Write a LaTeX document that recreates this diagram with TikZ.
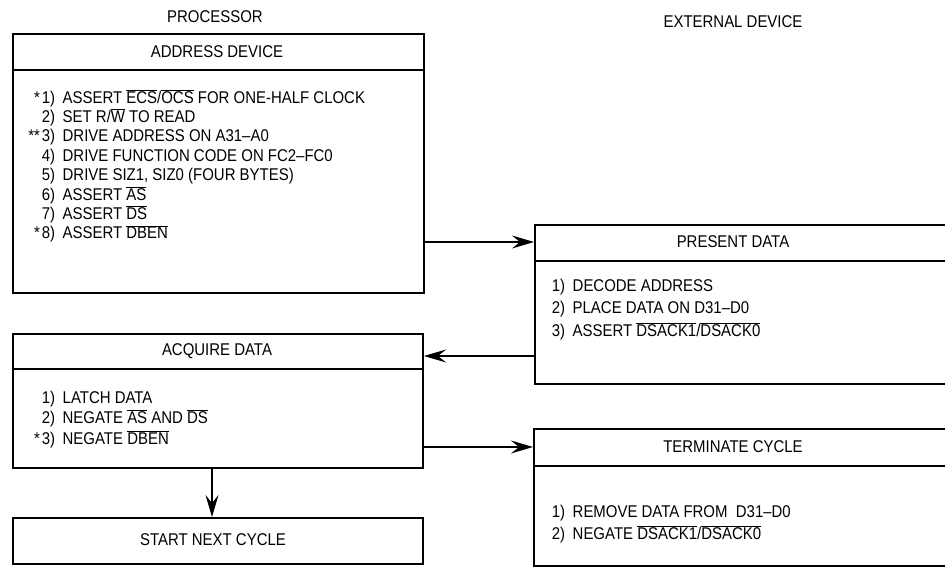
\documentclass[tikz,border=0pt]{standalone}
\usepackage{fontspec}
\setmainfont[FakeStretch=0.88]{Liberation Sans}
\usetikzlibrary{arrows.meta}
\newcommand\ovl[1]{$\overline{\mbox{#1}}$}
\newcommand\itm[2]{\makebox[24pt][r]{#1}\hspace{7.5pt}#2}
\tikzset{
  box/.style={draw, line width=2pt, rectangle, inner sep=0pt, anchor=north west},
  div/.style={line width=1.3pt},
  ttl/.style={inner sep=0pt, font=\fontsize{17}{19}\selectfont},
  lst/.style={inner sep=0pt, anchor=base west, align=left},
  arr/.style={line width=1.3pt, -{Stealth[length=22pt,width=13pt,inset=8pt]}},
}
\begin{document}
\begin{tikzpicture}[x=1pt,y=-1pt]
\clip (0,0) rectangle (945,569);
\fill[white] (0,0) rectangle (945,569);
% headings
\node[ttl] (proc) at (215,17) {PROCESSOR};
\node[ttl] (ext) at (733,22) {EXTERNAL DEVICE};
% boxes
\node[box, minimum width=411pt, minimum height=259pt] (addr) at (12,33) {};
\node[box, minimum width=425pt, minimum height=159pt] (pres) at (534,224) {};
\node[box, minimum width=410pt, minimum height=134pt] (acq) at (12,333) {};
\node[box, minimum width=425pt, minimum height=137pt] (term) at (533,428) {};
\node[box, minimum width=410pt, minimum height=46pt] (snc) at (12,517) {};
% dividers
\draw[div] ([yshift=-37pt]addr.north west) -- ([yshift=-37pt]addr.north east);
\draw[div] ([yshift=-37pt]pres.north west) -- ([yshift=-37pt]pres.north east);
\draw[div] ([yshift=-36pt]acq.north west) -- ([yshift=-36pt]acq.north east);
\draw[div] ([yshift=-38pt]term.north west) -- ([yshift=-38pt]term.north east);
% titles
\node[ttl] (addrT) at (217,51.5) {ADDRESS DEVICE};
\node[ttl] (presT) at (733,242) {PRESENT DATA};
\node[ttl] (acqT) at (217,351) {ACQUIRE DATA};
\node[ttl] (termT) at (733,447) {TERMINATE CYCLE};
\node[ttl] (sncT) at (213,540) {START NEXT CYCLE};
% lists (anchor = baseline of the last line)
\node[lst, font=\fontsize{17}{19.4}\selectfont] (addrL) at (31,239) {%
\itm{*\kern2pt1)}{ASSERT \ovl{ECS}/\ovl{OCS} FOR ONE-HALF CLOCK}\\
\itm{2)}{SET R/\ovl{W} TO READ}\\
\itm{**\kern2pt3)}{DRIVE ADDRESS ON A31--A0}\\
\itm{4)}{DRIVE FUNCTION CODE ON FC2--FC0}\\
\itm{5)}{DRIVE SIZ1, SIZ0 (FOUR BYTES)}\\
\itm{6)}{ASSERT \ovl{AS}}\\
\itm{7)}{ASSERT \ovl{DS}}\\
\itm{*\kern2pt8)}{ASSERT \ovl{DBEN}}};
\node[lst, font=\fontsize{17}{22}\selectfont] (presL) at (541,336) {%
\itm{1)}{DECODE ADDRESS}\\
\itm{2)}{PLACE DATA ON D31--D0}\\
\itm{3)}{ASSERT \ovl{DSACK1}/\ovl{DSACK0}}};
\node[lst, font=\fontsize{17}{20.5}\selectfont] (acqL) at (31,444) {%
\itm{1)}{LATCH DATA}\\
\itm{2)}{NEGATE \ovl{AS} AND \ovl{DS}}\\
\itm{*\kern2pt3)}{NEGATE \ovl{DBEN}}};
\node[lst, font=\fontsize{17}{21.5}\selectfont] (termL) at (541,539) {%
\itm{1)}{REMOVE DATA FROM\ \ D31--D0}\\
\itm{2)}{NEGATE \ovl{DSACK1}/\ovl{DSACK0}}};
% connectors
\draw[arr] (addr.east |- presT.west) -- (pres.west |- presT.west);
\draw[arr] ([yshift=-5pt]pres.west |- acqT.east) -- ([yshift=-5pt]acq.east |- acqT.east);
\draw[arr] (acq.east |- termT.west) -- (term.west |- termT.west);
\draw[arr] ([xshift=-6pt]acq.south) -- ([xshift=-6pt]snc.north);
\end{tikzpicture}
\end{document}
